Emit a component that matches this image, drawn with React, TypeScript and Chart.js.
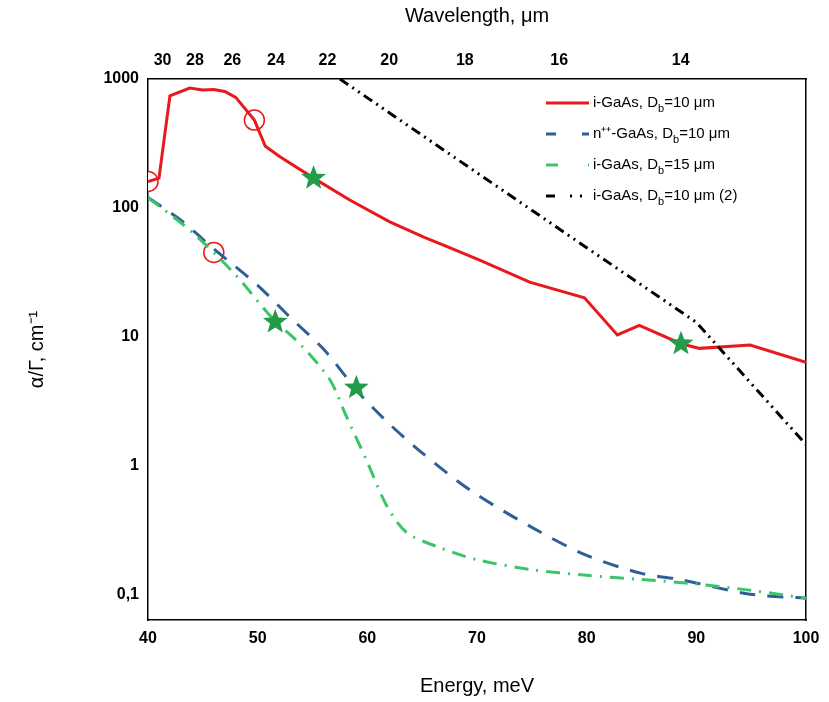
import { useEffect, useRef } from 'react';
import { Chart, registerables } from 'chart.js';

Chart.register(...registerables);

const redE = [40, 41, 42, 43.8, 45, 46, 47, 48, 49.7, 50.7, 52, 55.1, 58.4, 62, 65.2, 67, 70.3, 74.8, 79.8, 82.8, 84.8, 88.6, 90.3, 94.9, 100];
const redV = [160, 170, 740, 850, 820, 830, 800, 720, 480, 300, 250, 170, 115, 78, 59, 51, 39, 26.5, 20, 10.3, 12.2, 8.8, 8.1, 8.6, 6.3];
const blueE = [40, 43, 46, 50, 53, 56, 59.3, 62, 65, 69.4, 75, 80, 85, 88.5, 94.9, 100];
const blueV = [120, 80, 48, 25, 14, 8, 3.6, 2.1, 1.25, 0.64, 0.33, 0.2, 0.145, 0.13, 0.1, 0.093];
const greenE = [40, 44, 48, 51.3, 54, 56.6, 58, 60, 61.8, 63.6, 66.6, 70, 75, 80, 85, 90, 95, 100];
const greenV = [120, 65, 30, 14, 8.5, 4.6, 2.5, 1.06, 0.48, 0.3, 0.23, 0.185, 0.155, 0.14, 0.13, 0.12, 0.107, 0.093];
const blackE = [57.5, 70, 80, 90, 100];
const blackV = [1000, 187, 49, 12.9, 1.45];
const circleE = [40, 46, 49.7];
const circleV = [160, 45, 480];
const starE = [55.1, 51.6, 59, 88.6];
const starV = [170, 13, 4, 8.8];
const yTicks = [0.1, 1, 10, 100, 1000];
const wavelengths = [30, 28, 26, 24, 22, 20, 18, 16, 14];

const FONT = 'Arial, "Liberation Sans", sans-serif';

const legendItems = [
  { color: '#e8191c', dash: [] as number[], pre: 'i-GaAs, D', post: '=10 μm' },
  { color: '#2f5f96', dash: [10, 26], pre: 'n⁺⁺-GaAs, D', post: '=10 μm' },
  { color: '#3cc46a', dash: [12, 30, 2, 30], pre: 'i-GaAs, D', post: '=15 μm' },
  { color: '#000000', dash: [9, 15, 2, 8, 2, 8], pre: 'i-GaAs, D', post: '=10 μm (2)' },
];

const extras = {
  id: 'extras',
  afterDatasetsDraw(chart: any) {
    const ctx = chart.ctx;
    const x = chart.scales.x;
    const y = chart.scales.y;
    ctx.save();
    ctx.fillStyle = '#239b48';
    starE.forEach((e, i) => {
      const cx = x.getPixelForValue(e);
      const cy = y.getPixelForValue(starV[i]);
      ctx.beginPath();
      for (let k = 0; k < 10; k++) {
        const r = k % 2 === 0 ? 13 : 5.5;
        const a = -Math.PI / 2 + (k * Math.PI) / 5;
        ctx.lineTo(cx + r * Math.cos(a), cy + r * Math.sin(a));
      }
      ctx.closePath();
      ctx.fill();
    });
    // legend
    let ly = 103;
    legendItems.forEach((it) => {
      ctx.strokeStyle = it.color;
      ctx.lineWidth = 3;
      ctx.setLineDash(it.dash);
      ctx.beginPath();
      ctx.moveTo(546, ly);
      ctx.lineTo(589, ly);
      ctx.stroke();
      ctx.setLineDash([]);
      ctx.fillStyle = '#000';
      ctx.textBaseline = 'middle';
      ctx.font = `15px ${FONT}`;
      ctx.fillText(it.pre, 593, ly);
      const w = ctx.measureText(it.pre).width;
      ctx.font = `11px ${FONT}`;
      ctx.fillText('b', 593 + w, ly + 6);
      const wb = ctx.measureText('b').width;
      ctx.font = `15px ${FONT}`;
      ctx.fillText(it.post, 593 + w + wb, ly);
      ly += 31;
    });
    ctx.restore();
  },
};

export default function App() {
  const ref = useRef<HTMLCanvasElement>(null);

  useEffect(() => {
    if (!ref.current) return;
    const mk = (xs: number[], ys: number[]) => xs.map((e, i) => ({ x: e, y: ys[i] }));
    const tickFont = { family: FONT, size: 16, weight: 'bold' as const };
    const chart = new Chart(ref.current, {
      type: 'line',
      data: {
        datasets: [
          { data: mk(blackE, blackV), borderColor: '#000', borderWidth: 3, borderDash: [10, 5, 2, 5, 2, 5], pointRadius: 0, tension: 0 },
          { data: mk(greenE, greenV), borderColor: '#3cc46a', borderWidth: 3, borderDash: [14, 8, 2, 8], pointRadius: 0, tension: 0.3 },
          { data: mk(blueE, blueV), borderColor: '#2f5f96', borderWidth: 3, borderDash: [16, 12], pointRadius: 0, tension: 0.3 },
          { data: mk(redE, redV), borderColor: '#e8191c', borderWidth: 3, pointRadius: 0, tension: 0 },
          {
            data: mk(circleE, circleV), showLine: false, pointRadius: 10, pointBorderColor: '#e8191c',
            pointBackgroundColor: '#fff', pointBorderWidth: 1.5, borderColor: '#e8191c',
          },
        ],
      },
      options: {
        animation: false,
        responsive: false,
        layout: { padding: { right: 23, top: 0 } },
        plugins: { legend: { display: false }, tooltip: { enabled: false } },
        scales: {
          x: {
            type: 'linear', min: 40, max: 100, position: 'bottom',
            border: { color: '#000', width: 1.5 },
            grid: { display: false, drawTicks: true, tickLength: 6, color: '#000' },
            ticks: { stepSize: 10, color: '#000', font: tickFont },
            title: { display: true, text: 'Energy, meV', color: '#000', font: { family: FONT, size: 20 }, padding: { top: 12 } },
            afterFit: (s: any) => { s.height = 82; },
          },
          x2: {
            type: 'linear', min: 40, max: 100, position: 'top',
            border: { color: '#000', width: 1.5 },
            grid: { display: false, drawTicks: true, tickLength: 6, color: '#000' },
            afterBuildTicks: (s: any) => { s.ticks = wavelengths.map((l) => ({ value: 1240 / l })); },
            ticks: {
              color: '#000', font: tickFont,
              callback: (v: any) => String(Math.round(1240 / Number(v))),
            },
            title: { display: true, text: 'Wavelength, μm', color: '#000', font: { family: FONT, size: 20 } },
            afterFit: (s: any) => { s.height = 79; },
          },
          y: {
            type: 'logarithmic', min: 0.063, max: 1000,
            border: { color: '#000', width: 1.5 },
            grid: { display: false, drawTicks: true, tickLength: 6, color: '#000' },
            afterBuildTicks: (s: any) => { s.ticks = yTicks.map((v) => ({ value: v })); },
            ticks: {
              color: '#000', font: tickFont,
              callback: (v: any) => (Number(v) < 1 ? '0,1' : String(v)),
            },
            title: { display: true, text: 'α/Γ, cm⁻¹', color: '#000', font: { family: FONT, size: 20 }, padding: { top: 25 } },
            afterFit: (s: any) => { s.width = 148; },
          },
          y2: {
            type: 'logarithmic', min: 0.063, max: 1000, position: 'right',
            border: { color: '#000', width: 1.5 },
            grid: { display: false, drawTicks: false },
            ticks: { display: false },
            afterFit: (s: any) => { s.width = 0; },
          },
        },
      },
      plugins: [extras],
    });
    return () => chart.destroy();
  }, []);

  return (
    <div style={{ position: 'fixed', left: 0, top: 0, width: 829, height: 702, background: '#fff' }}>
      <canvas ref={ref} width={829} height={702} />
    </div>
  );
}
